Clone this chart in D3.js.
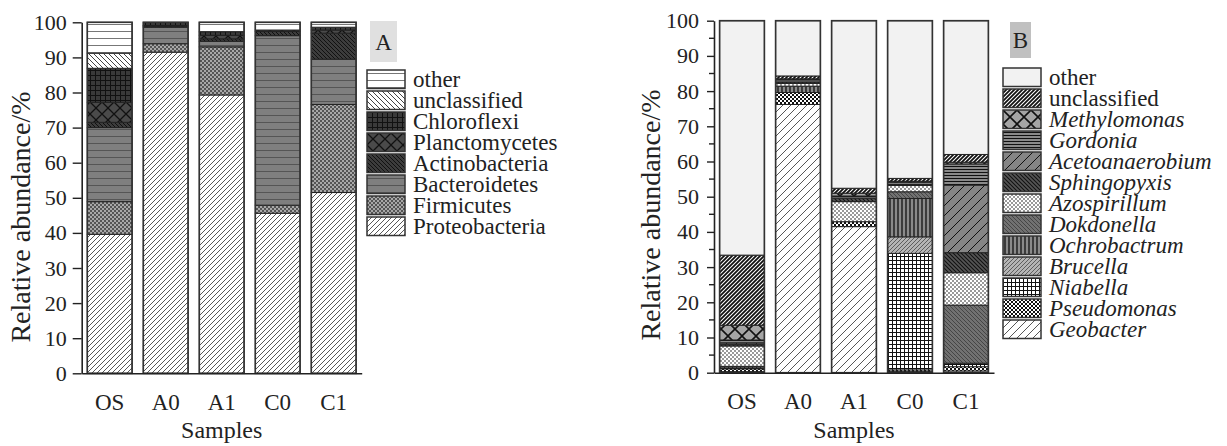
<!DOCTYPE html>
<html lang="en">
<head>
    <meta charset="UTF-8">
    <title>Relative abundance of bacterial communities</title>
    <style>
        body {
            margin: 0;
            padding: 0;
            background: #fff;
        }
        svg text {
            font-family: 'Liberation Serif', 'Times New Roman', serif;
            fill: #222;
        }
    </style>
</head>
<body>
    <div id="chart"></div>

    <script src="https://d3js.org/d3.v7.min.js"></script>
    <script>
        const samples = ["OS", "A0", "A1", "C0", "C1"];
        const yTicks = [0, 10, 20, 30, 40, 50, 60, 70, 80, 90, 100];

        // panel A: phyla, stacked bottom to top
        const phyla = ["Proteobacteria", "Firmicutes", "Bacteroidetes", "Actinobacteria",
            "Planctomycetes", "Chloroflexi", "unclassified", "other"];
        const proteobacteria = [39.6, 91.5, 79.3, 45.6, 51.5];
        const firmicutes     = [9.3, 2.4, 13.7, 2.3, 25.1];
        const bacteroidetes  = [21.1, 4.7, 1.6, 48.3, 12.9];
        const actinobacteria = [1.5, 0.3, 0.7, 1.2, 7.4];
        const planctomycetes = [5.7, 0.2, 1.0, 0.4, 0.9];
        const chloroflexi    = [9.7, 0.9, 1.0, 0.0, 0.8];
        const unclassifiedA  = [4.3, 0.0, 0.0, 0.0, 0.0];
        const otherA         = [8.8, 0.0, 2.7, 2.2, 1.4];

        // panel B: genera, stacked bottom to top
        const genera = ["Geobacter", "Pseudomonas", "Niabella", "Brucella", "Ochrobactrum",
            "Dokdonella", "Azospirillum", "Sphingopyxis", "Acetoanaerobium", "Gordonia",
            "Methylomonas", "unclassified", "other"];
        const geobacter       = [0.3, 76.2, 41.5, 0.3, 0.5];
        const pseudomonas     = [0.8, 3.4, 1.4, 0.5, 1.2];
        const niabella        = [0.5, 0.0, 0.0, 33.1, 1.0];
        const brucella        = [0.0, 0.0, 0.0, 4.7, 0.0];
        const ochrobactrum    = [0.2, 1.8, 0.0, 10.9, 0.0];
        const dokdonella      = [0.0, 0.0, 0.0, 1.9, 16.5];
        const azospirillum    = [5.8, 0.8, 5.7, 1.8, 9.2];
        const sphingopyxis    = [0.5, 0.4, 1.0, 0.3, 5.7];
        const acetoanaerobium = [0.4, 0.0, 0.0, 0.0, 19.2];
        const gordonia        = [0.8, 0.6, 0.6, 0.6, 6.0];
        const methylomonas    = [4.2, 0.3, 0.8, 0.3, 0.5];
        const unclassifiedB   = [19.9, 0.8, 1.4, 0.8, 2.2];
        const otherB          = [66.6, 15.7, 47.6, 44.8, 38.0];

        const seriesA = [proteobacteria, firmicutes, bacteroidetes, actinobacteria,
            planctomycetes, chloroflexi, unclassifiedA, otherA];
        const seriesB = [geobacter, pseudomonas, niabella, brucella, ochrobactrum,
            dokdonella, azospirillum, sphingopyxis, acetoanaerobium, gordonia,
            methylomonas, unclassifiedB, otherB];

        const width = 1227, height = 446;
        const svg = d3.select("#chart").append("svg")
            .attr("width", width)
            .attr("height", height);
        const defs = svg.append("defs");

        // pattern helper: tile of size s with background and a path
        function pat(id, s, bg, d, stroke, sw, extra) {
            const p = defs.append("pattern")
                .attr("id", id)
                .attr("patternUnits", "userSpaceOnUse")
                .attr("width", s).attr("height", s);
            p.append("rect").attr("width", s).attr("height", s).attr("fill", bg);
            if (d) p.append("path").attr("d", d).attr("stroke", stroke)
                .attr("stroke-width", sw).attr("fill", "none");
            if (extra) extra(p);
        }
        const fwd = s => `M0,${s} L${s},0 M${-s / 2},${s / 2} L${s / 2},${-s / 2} M${s / 2},${s * 1.5} L${s * 1.5},${s / 2}`;
        const back = s => `M0,0 L${s},${s} M${-s / 2},${s / 2} L${s / 2},${s * 1.5} M${s / 2},${-s / 2} L${s * 1.5},${s / 2}`;
        const checker = (fg) => p => {
            p.append("rect").attr("width", 2).attr("height", 2).attr("fill", fg);
            p.append("rect").attr("x", 2).attr("y", 2).attr("width", 2).attr("height", 2).attr("fill", fg);
        };

        // panel A fills
        pat("a_other", 7, "#fff", "M0,3.5 H7", "#777", 1);
        pat("a_uncl", 5, "#fff", back(5), "#444", 1);
        pat("a_chloro", 5, "#3a3a3a", "M0,0.5 H5 M0.5,0 V5", "#111", 1);
        pat("a_planct", 12, "#4a4a4a", "M0,0 L12,12 M0,12 L12,0", "#111", 1.3);
        pat("a_actino", 4, "#3c3c3c", back(4), "#111", 1);
        pat("a_bact", 7, "#7f7f7f", "M0,3.5 H7", "#555", 1);
        pat("a_firm", 4, "#a8a8a8", null, null, 0, checker("#555"));
        pat("a_proteo", 5, "#fff", fwd(5), "#444", 0.9);
        const fillA = ["a_proteo", "a_firm", "a_bact", "a_actino", "a_planct", "a_chloro", "a_uncl", "a_other"];

        // panel B fills
        pat("b_other", 4, "#f2f2f2", null);
        pat("b_uncl", 4, "#fff", fwd(4), "#111", 1.8);
        pat("b_methyl", 14, "#a5a5a5", "M0,0 L14,14 M0,14 L14,0", "#111", 1.6);
        pat("b_gord", 3, "#8a8a8a", "M0,1.5 H3", "#111", 1);
        pat("b_aceto", 10, "#858585", fwd(10), "#111", 1);
        pat("b_sphingo", 4, "#555", back(4), "#111", 1.1);
        pat("b_azo", 4, "#fff", null, null, 0, checker("#999"));
        pat("b_dokdo", 4, "#717171", back(4), "#3a3a3a", 0.8);
        pat("b_ochro", 4, "#8a8a8a", "M2,0 V4", "#111", 1.3);
        pat("b_bruc", 4, "#b5b5b5", fwd(4), "#555", 0.9);
        pat("b_niab", 4, "#fff", "M0,0.5 H4 M0.5,0 V4", "#111", 1);
        pat("b_pseudo", 4, "#111", null, null, 0, checker("#fff"));
        pat("b_geo", 8, "#fff", fwd(8), "#444", 0.9);
        const fillB = ["b_geo", "b_pseudo", "b_niab", "b_bruc", "b_ochro", "b_dokdo", "b_azo",
            "b_sphingo", "b_aceto", "b_gord", "b_methyl", "b_uncl", "b_other"];

        function panel(cfg) {
            const x = d3.scaleBand().domain(samples)
                .range([cfg.x0, cfg.x1]).paddingInner(0.2).paddingOuter(0.1);
            const y = d3.scaleLinear().domain([0, 100]).range([cfg.y0, cfg.y1]);

            const rows = samples.map((s, i) => {
                const r = { sample: s };
                cfg.keys.forEach((k, j) => r[k] = cfg.series[j][i]);
                return r;
            });
            const stacked = d3.stack().keys(cfg.keys)(rows);

            const g = svg.append("g");
            g.selectAll("g.layer")
                .data(stacked)
                .enter().append("g")
                .attr("fill", (d, i) => `url(#${cfg.fills[i]})`)
                .selectAll("rect")
                .data(d => d.filter(v => v[1] - v[0] > 0))
                .enter().append("rect")
                .attr("x", d => x(d.data.sample))
                .attr("width", x.bandwidth())
                .attr("y", d => y(d[1]))
                .attr("height", d => y(d[0]) - y(d[1]))
                .attr("stroke", "#222")
                .attr("stroke-width", 1);

            // bar outline
            g.selectAll("rect.outline")
                .data(samples)
                .enter().append("rect")
                .attr("x", d => x(d))
                .attr("width", x.bandwidth())
                .attr("y", y(100))
                .attr("height", y(0) - y(100))
                .attr("fill", "none")
                .attr("stroke", "#333")
                .attr("stroke-width", 1.6);

            // y axis
            const ya = g.append("g")
                .attr("transform", `translate(${cfg.x0},0)`)
                .call(d3.axisLeft(y).tickValues(yTicks).tickSize(cfg.tick).tickPadding(cfg.pad).tickSizeOuter(0));
            ya.select(".domain").attr("stroke", "#222").attr("stroke-width", 1.6);
            ya.selectAll(".tick line").attr("stroke", "#222").attr("stroke-width", 1.4);
            ya.selectAll("text").style("font-size", "22px").attr("fill", "#222");
            if (cfg.minor) {
                ya.selectAll("line.minor")
                    .data(yTicks.slice(0, -1).map(v => v + 5))
                    .enter().append("line")
                    .attr("x1", -5).attr("x2", 0)
                    .attr("y1", d => y(d)).attr("y2", d => y(d))
                    .attr("stroke", "#222").attr("stroke-width", 1.4);
            }

            // x axis
            const xa = g.append("g")
                .attr("transform", `translate(0,${cfg.y0})`)
                .call(d3.axisBottom(x).tickSize(0).tickPadding(20).tickSizeOuter(0));
            xa.select(".domain").attr("stroke", "#222").attr("stroke-width", 1.6);
            xa.selectAll("text").style("font-size", "23px").attr("fill", "#222");

            g.append("text")
                .attr("x", (cfg.x0 + cfg.x1) / 2)
                .attr("y", 438)
                .attr("text-anchor", "middle")
                .style("font-size", "24px")
                .text("Samples");

            g.append("text")
                .attr("transform", `translate(${cfg.titleX},${cfg.titleY}) rotate(-90)`)
                .attr("text-anchor", "middle")
                .style("font-size", "28px")
                .text("Relative abundance/%");

            // panel letter
            g.append("rect")
                .attr("x", cfg.lx).attr("y", cfg.ly)
                .attr("width", cfg.lw).attr("height", cfg.lh)
                .attr("fill", cfg.lfill);
            g.append("text")
                .attr("x", cfg.lx + cfg.lw / 2)
                .attr("y", cfg.ly + cfg.lh / 2 + 8)
                .attr("text-anchor", "middle")
                .style("font-size", "23px")
                .text(cfg.letter);

            // legend, top entry is last stacked key
            const leg = g.append("g");
            const items = cfg.keys.map((k, i) => ({ k, f: cfg.fills[i] })).reverse();
            const it = leg.selectAll("g")
                .data(items)
                .enter().append("g")
                .attr("transform", (d, i) => `translate(${cfg.bx},${cfg.by + i * 21})`);
            it.append("rect")
                .attr("width", 38).attr("height", 18.5)
                .attr("fill", d => `url(#${d.f})`)
                .attr("stroke", "#333").attr("stroke-width", 1.5);
            it.append("text")
                .attr("x", 46).attr("y", 17)
                .style("font-size", "23px")
                .style("font-style", d => cfg.italic && d.k !== "other" && d.k !== "unclassified" ? "italic" : "normal")
                .text(d => d.k);
        }

        panel({
            keys: phyla, series: seriesA, fills: fillA,
            x0: 81.7, x1: 361.7, y0: 373.3, y1: 22.3,
            tick: 9, pad: 6, minor: false, titleX: 30, titleY: 217,
            letter: "A", lx: 370, ly: 21, lw: 27, lh: 41, lfill: "#e0e0e0",
            bx: 367, by: 70, italic: false
        });

        panel({
            keys: genera, series: seriesB, fills: fillB,
            x0: 714, x1: 994, y0: 372.7, y1: 20.7,
            tick: 7, pad: 8, minor: true, titleX: 660, titleY: 215,
            letter: "B", lx: 1010, ly: 22, lw: 21, lh: 36, lfill: "#c0c0c0",
            bx: 1003, by: 68, italic: true
        });
    </script>
</body>
</html>
